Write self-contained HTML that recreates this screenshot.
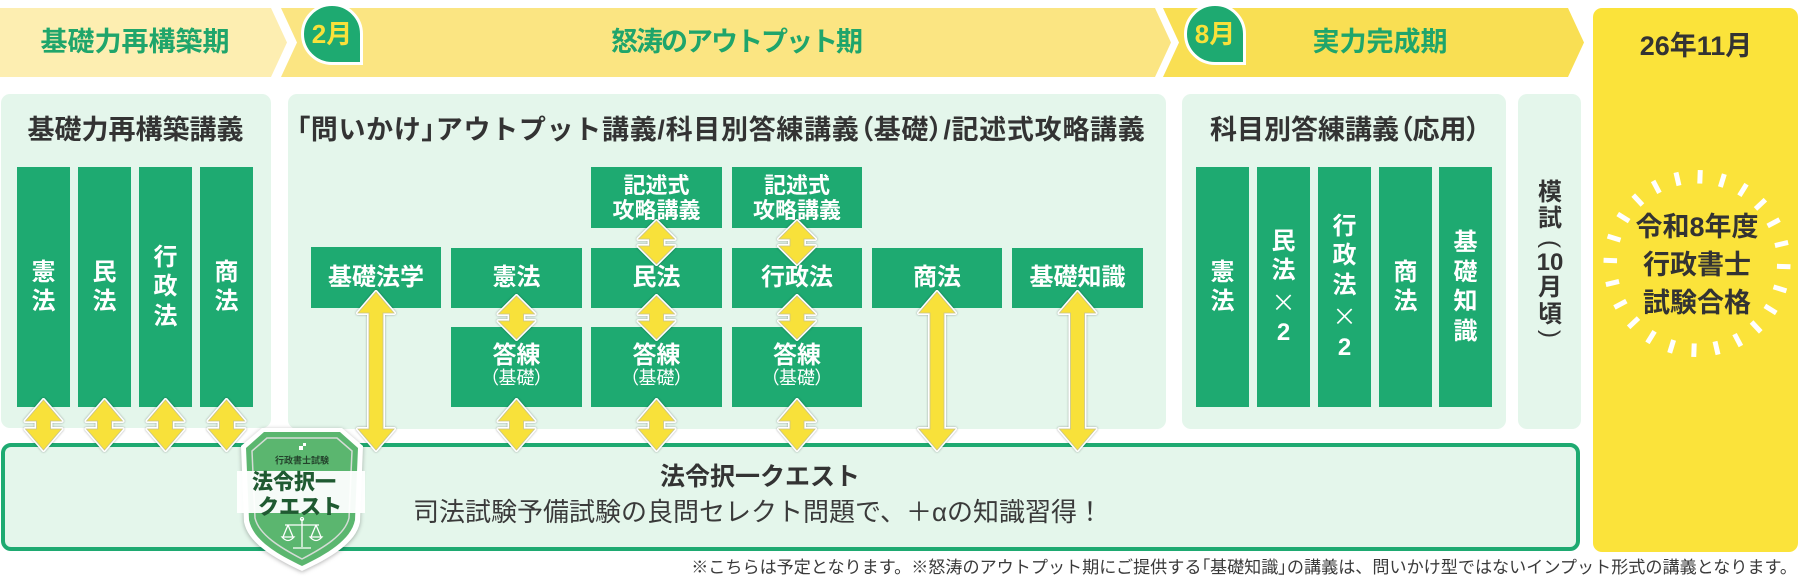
<!DOCTYPE html>
<html><head><meta charset="utf-8">
<style>
*{margin:0;padding:0;box-sizing:border-box}
html,body{width:1800px;height:588px;background:#fff;overflow:hidden}
body{position:relative;font-family:"Liberation Sans","Noto Sans CJK JP",sans-serif}
.a{position:absolute}
.t{position:absolute;white-space:nowrap;text-align:center;font-weight:700}
.panel{position:absolute;background:#E4F6EB;border-radius:9px}
.gb{position:absolute;background:#1EAA71;color:#fff;font-weight:700;display:flex;flex-direction:column;align-items:center;justify-content:center;text-align:center;white-space:nowrap}
.v{font-size:24px;line-height:29.5px}
.h{font-size:24px;line-height:28px}
.p{font-feature-settings:"palt"}
.bt{color:#1FA56B;font-size:27px;line-height:34px;top:25px}
.pt{color:#333;font-size:27px;line-height:34px;top:113px}
.mb{position:absolute;width:62px;height:62px;border:3px solid #fff;background:#1EAA71;border-radius:50% 50% 0 50%;color:#F8E13A;font-weight:700;font-size:26px;line-height:56px;text-align:center;white-space:nowrap}
.mk{color:#333;font-size:24px;line-height:30px;width:100px;left:1500px}
.x{font-family:"Noto Sans CJK JP",sans-serif;font-weight:400}
</style></head><body>

<svg class="a" style="left:0;top:0" width="1800" height="588">
<polygon points="0,8 271,8 287,42.5 271,77 0,77" fill="#FDEEB1"/>
<polygon points="281,8 1155,8 1171,42.5 1155,77 281,77 297,42.5" fill="#FBE582"/>
<polygon points="1163,8 1568,8 1584,42.5 1568,77 1163,77 1179,42.5" fill="#F9DF53"/>
<rect x="1593" y="8" width="205" height="544" rx="9" fill="#FBE33A"/>
<g stroke="#fff" stroke-width="5">
<line x1="1697" y1="170" x2="1697" y2="183.5" transform="rotate(2 1697 263.5)"/>
<line x1="1697" y1="170" x2="1697" y2="183.5" transform="rotate(17 1697 263.5)"/>
<line x1="1697" y1="170" x2="1697" y2="183.5" transform="rotate(32 1697 263.5)"/>
<line x1="1697" y1="170" x2="1697" y2="183.5" transform="rotate(47 1697 263.5)"/>
<line x1="1697" y1="170" x2="1697" y2="183.5" transform="rotate(62 1697 263.5)"/>
<line x1="1697" y1="170" x2="1697" y2="183.5" transform="rotate(77 1697 263.5)"/>
<line x1="1697" y1="170" x2="1697" y2="183.5" transform="rotate(92 1697 263.5)"/>
<line x1="1697" y1="170" x2="1697" y2="183.5" transform="rotate(107 1697 263.5)"/>
<line x1="1697" y1="170" x2="1697" y2="183.5" transform="rotate(122 1697 263.5)"/>
<line x1="1697" y1="170" x2="1697" y2="183.5" transform="rotate(137 1697 263.5)"/>
<line x1="1697" y1="170" x2="1697" y2="183.5" transform="rotate(152 1697 263.5)"/>
<line x1="1697" y1="170" x2="1697" y2="183.5" transform="rotate(167 1697 263.5)"/>
<line x1="1697" y1="170" x2="1697" y2="183.5" transform="rotate(182 1697 263.5)"/>
<line x1="1697" y1="170" x2="1697" y2="183.5" transform="rotate(197 1697 263.5)"/>
<line x1="1697" y1="170" x2="1697" y2="183.5" transform="rotate(212 1697 263.5)"/>
<line x1="1697" y1="170" x2="1697" y2="183.5" transform="rotate(227 1697 263.5)"/>
<line x1="1697" y1="170" x2="1697" y2="183.5" transform="rotate(242 1697 263.5)"/>
<line x1="1697" y1="170" x2="1697" y2="183.5" transform="rotate(257 1697 263.5)"/>
<line x1="1697" y1="170" x2="1697" y2="183.5" transform="rotate(272 1697 263.5)"/>
<line x1="1697" y1="170" x2="1697" y2="183.5" transform="rotate(287 1697 263.5)"/>
<line x1="1697" y1="170" x2="1697" y2="183.5" transform="rotate(302 1697 263.5)"/>
<line x1="1697" y1="170" x2="1697" y2="183.5" transform="rotate(317 1697 263.5)"/>
<line x1="1697" y1="170" x2="1697" y2="183.5" transform="rotate(332 1697 263.5)"/>
<line x1="1697" y1="170" x2="1697" y2="183.5" transform="rotate(347 1697 263.5)"/>
</g>
</svg>

<!-- banner titles -->
<div class="t bt" style="left:-165px;width:600px">基礎力再構築期</div>
<div class="t bt" style="left:436px;width:600px;letter-spacing:-2px">怒涛のアウトプット期</div>
<div class="t bt" style="left:1080px;width:600px">実力完成期</div>
<div class="mb" style="left:301px;top:3px">2月</div>
<div class="mb" style="left:1184px;top:3px">8月</div>
<div class="t" style="left:1396px;width:600px;top:29px;font-size:27px;line-height:34px;color:#333">26年11月</div>

<!-- panels -->
<div class="panel" style="left:1px;top:94px;width:270px;height:334px"></div>
<div class="panel" style="left:288px;top:94px;width:878px;height:335px"></div>
<div class="panel" style="left:1182px;top:94px;width:324px;height:335px"></div>
<div class="panel" style="left:1518px;top:94px;width:63px;height:335px"></div>

<div class="t pt" style="left:-164.5px;width:600px">基礎力再構築講義</div>
<div class="t pt" style="left:221px;width:1000px;letter-spacing:0.7px"><span class="p">「</span>問いかけ<span class="p">」</span>アウトプット講義/科目別答練講義<span class="p">（</span>基礎<span class="p">）</span>/記述式攻略講義</div>
<div class="t pt" style="left:1045px;width:600px">科目別答練講義<span class="p">（</span>応用<span class="p">）</span></div>

<!-- panel 1 boxes -->
<div class="gb v" style="left:17px;top:167px;width:53px;height:240px"><div>憲<br>法</div></div>
<div class="gb v" style="left:78px;top:167px;width:53px;height:240px"><div>民<br>法</div></div>
<div class="gb v" style="left:139px;top:167px;width:53px;height:240px"><div>行<br>政<br>法</div></div>
<div class="gb v" style="left:200px;top:167px;width:53px;height:240px"><div>商<br>法</div></div>

<!-- panel 2 boxes -->
<div class="gb" style="left:591px;top:167px;width:131px;height:61px;font-size:22px;line-height:25px"><div>記述式<br>攻略講義</div></div>
<div class="gb" style="left:732px;top:167px;width:130px;height:61px;font-size:22px;line-height:25px"><div>記述式<br>攻略講義</div></div>

<div class="gb h" style="left:311px;top:247px;width:130px;height:61px">基礎法学</div>
<div class="gb h" style="left:451px;top:248px;width:131px;height:60px">憲法</div>
<div class="gb h" style="left:591px;top:248px;width:131px;height:60px">民法</div>
<div class="gb h" style="left:732px;top:248px;width:130px;height:60px">行政法</div>
<div class="gb h" style="left:872px;top:248px;width:130px;height:60px">商法</div>
<div class="gb h" style="left:1012px;top:248px;width:131px;height:60px">基礎知識</div>

<div class="gb" style="left:451px;top:327px;width:131px;height:80px;padding-bottom:4px"><div style="font-size:24px;line-height:26px">答練</div><div class="p" style="font-size:18px;line-height:18px;font-weight:400">（基礎）</div></div>
<div class="gb" style="left:591px;top:327px;width:131px;height:80px;padding-bottom:4px"><div style="font-size:24px;line-height:26px">答練</div><div class="p" style="font-size:18px;line-height:18px;font-weight:400">（基礎）</div></div>
<div class="gb" style="left:732px;top:327px;width:130px;height:80px;padding-bottom:4px"><div style="font-size:24px;line-height:26px">答練</div><div class="p" style="font-size:18px;line-height:18px;font-weight:400">（基礎）</div></div>

<!-- panel 3 boxes -->
<div class="gb v" style="left:1196px;top:167px;width:53px;height:240px"><div>憲<br>法</div></div>
<div class="gb v" style="left:1257px;top:167px;width:53px;height:240px"><div>民<br>法<br><span class="x">×</span><br>2</div></div>
<div class="gb v" style="left:1318px;top:167px;width:53px;height:240px"><div>行<br>政<br>法<br><span class="x">×</span><br>2</div></div>
<div class="gb v" style="left:1379px;top:167px;width:53px;height:240px"><div>商<br>法</div></div>
<div class="gb v" style="left:1439px;top:167px;width:53px;height:240px"><div>基<br>礎<br>知<br>識</div></div>

<!-- mokushi -->
<div class="t mk" style="top:178px">模</div>
<div class="t mk" style="top:204px">試</div>
<div class="t mk" style="top:229px;transform:rotate(90deg);font-weight:400">(</div>
<div class="t mk" style="top:248px">10</div>
<div class="t mk" style="top:273px">月</div>
<div class="t mk" style="top:300px">頃</div>
<div class="t mk" style="top:319px;transform:rotate(90deg);font-weight:400">)</div>

<!-- final box text -->
<div class="t" style="left:1397px;width:600px;top:208px;font-size:27px;line-height:38px;color:#333">令和8年度<br>行政書士<br>試験合格</div>

<!-- quest box -->
<div class="a" style="left:1px;top:443px;width:1579px;height:108px;border:4px solid #1EAA71;border-radius:10px;background:#E4F6EB"></div>
<div class="t" style="left:460px;width:600px;top:460px;font-size:25px;line-height:34px;color:#333">法令択一クエスト</div>
<div class="t" style="left:258px;width:1000px;top:494px;font-size:26px;line-height:36px;color:#3a3a3a;font-weight:400">司法試験予備試験の良問セレクト問題で、＋αの知識習得！</div>

<!-- footer -->
<div class="a" style="left:0;width:1797px;top:556px;font-size:17.1px;line-height:24px;color:#3a3a3a;text-align:right;white-space:nowrap">※こちらは予定となります。※怒涛のアウトプット期にご提供する<span class="p">「</span>基礎知識<span class="p">」</span>の講義は、問いかけ型ではないインプット形式の講義となります。</div>

<!-- arrows + badge -->
<svg class="a" style="left:0;top:0;z-index:5" width="1800" height="588">
<defs>
<g id="s50" style="filter:drop-shadow(0 0 1px rgba(0,0,0,.35))">
<polygon points="0,0 18,21 7,21 7,29 18,29 0,50 -18,29 -7,29 -7,21 -18,21" fill="#fff" stroke="#fff" stroke-width="4" stroke-linejoin="round"/>
<polygon points="0,0 18,21 7,21 7,29 18,29 0,50 -18,29 -7,29 -7,21 -18,21" fill="#F8E13A" stroke="#c9c48a" stroke-width="0.8"/>
</g>
<g id="s43" style="filter:drop-shadow(0 0 1px rgba(0,0,0,.35))">
<polygon points="0,0 18,18 7,18 7,25 18,25 0,43 -18,25 -7,25 -7,18 -18,18" fill="#fff" stroke="#fff" stroke-width="4" stroke-linejoin="round"/>
<polygon points="0,0 18,18 7,18 7,25 18,25 0,43 -18,25 -7,25 -7,18 -18,18" fill="#F8E13A" stroke="#c9c48a" stroke-width="0.8"/>
</g>
<g id="s158" style="filter:drop-shadow(0 0 1px rgba(0,0,0,.35))">
<polygon points="0,0 18,21 7,21 7,137 18,137 0,158 -18,137 -7,137 -7,21 -18,21" fill="#fff" stroke="#fff" stroke-width="4" stroke-linejoin="round"/>
<polygon points="0,0 18,21 7,21 7,137 18,137 0,158 -18,137 -7,137 -7,21 -18,21" fill="#F8E13A" stroke="#c9c48a" stroke-width="0.8"/>
</g>
</defs>
<use href="#s50" x="43.5" y="400"/>
<use href="#s50" x="104.5" y="400"/>
<use href="#s50" x="165.5" y="400"/>
<use href="#s50" x="226.5" y="400"/>
<use href="#s50" x="516.5" y="400"/>
<use href="#s50" x="656.5" y="400"/>
<use href="#s50" x="797" y="400"/>
<use href="#s43" x="656.5" y="221"/>
<use href="#s43" x="797" y="221"/>
<use href="#s43" x="516.5" y="296"/>
<use href="#s43" x="656.5" y="296"/>
<use href="#s43" x="797" y="296"/>
<use href="#s158" x="376" y="292"/>
<use href="#s158" x="937" y="292"/>
<use href="#s158" x="1077.5" y="292"/>

<!-- shield badge -->
<g style="filter:drop-shadow(0 1px 2px rgba(0,0,0,.3))">
<path d="M262,428 L342,428 L363,446 L360,522 C356,543 330,558 302,571 C274,558 248,543 244,522 L241,446 Z" fill="#fff"/>
</g>
<path d="M264,432 L340,432 L358,448 L355,520 C351,540 327,554 302,566 C277,554 253,540 249,520 L246,448 Z" fill="#5BB66F"/>
<path d="M267,438 L337,438 L352,451 L349,518 C345,535 323,548 302,559 C281,548 259,535 255,518 L252,451 Z" fill="none" stroke="#d5dcd6" stroke-width="1.5"/>
<rect x="299" y="446" width="4" height="4" fill="#fff"/>
<rect x="303" y="443" width="3" height="3" fill="#fff"/>
<text x="302" y="463.5" text-anchor="middle" font-family="Liberation Sans, Noto Sans CJK JP, sans-serif" font-size="9" font-weight="700" fill="#24432c">行政書士試験</text>
<rect x="237" y="471" width="128" height="42" fill="#fff" opacity="0.95"/>
<text x="294" y="489" text-anchor="middle" font-family="Liberation Sans, Noto Sans CJK JP, sans-serif" font-size="21" font-weight="900" fill="#1F5A31">法令択一</text>
<text x="300" y="514" text-anchor="middle" font-family="Liberation Sans, Noto Sans CJK JP, sans-serif" font-size="21" font-weight="900" fill="#1F5A31">クエスト</text>
<g stroke="#fff" stroke-width="1.3" fill="none">
<path d="M302,519 L302,547"/>
<path d="M285,525 L319,525"/>
<path d="M288,525 L283,537 M288,525 L293,537"/>
<path d="M282,537 Q288,544 294,537 Z"/>
<path d="M316,525 L311,537 M316,525 L321,537"/>
<path d="M310,537 Q316,544 322,537 Z"/>
<path d="M293,548 L311,548"/>
<circle cx="302" cy="519" r="1.5"/>
</g>
</svg>
</body></html>
